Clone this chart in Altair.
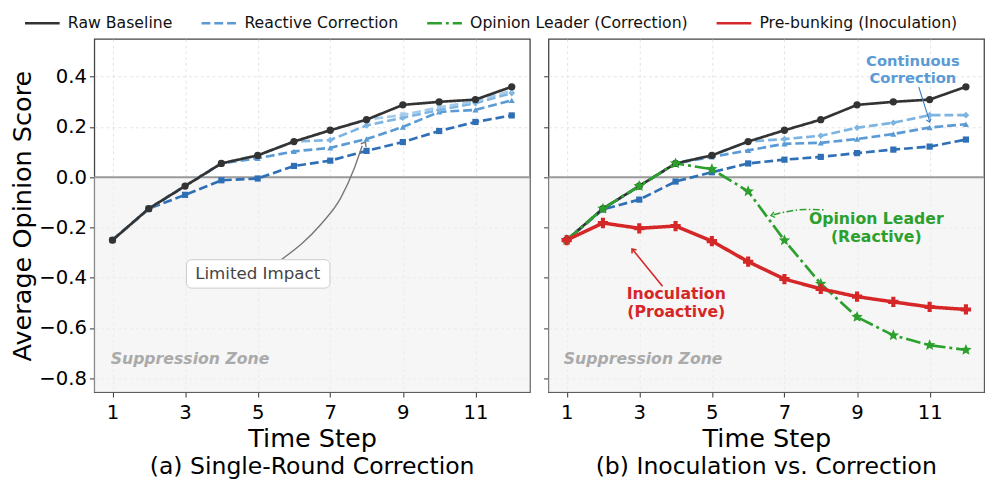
import math
import altair as alt
import pandas as pd

# ---------------- data ----------------
steps = list(range(1, 13))
raw_baseline = [-0.25, -0.125, -0.035, 0.055, 0.087, 0.142, 0.187, 0.229, 0.288, 0.300, 0.309, 0.360]

# (a) single-round corrections at different times
a_dark = [-0.25, -0.125, -0.070, -0.012, -0.005, 0.045, 0.066, 0.105, 0.140, 0.184, 0.220, 0.246]
a_med = [-0.25, -0.125, -0.035, 0.055, 0.075, 0.103, 0.117, 0.152, 0.200, 0.260, 0.268, 0.306]
a_light = [-0.25, -0.125, -0.035, 0.055, 0.087, 0.142, 0.148, 0.206, 0.237, 0.268, 0.295, 0.335]
a_lightest = [-0.25, -0.125, -0.035, 0.055, 0.087, 0.142, 0.187, 0.229, 0.248, 0.278, 0.302, 0.345]

# (b) continuous correction, opinion leader, inoculation
b_light = [-0.25, -0.125, -0.035, 0.055, 0.087, 0.142, 0.152, 0.165, 0.197, 0.217, 0.247, 0.247]
b_med = [-0.25, -0.125, -0.035, 0.055, 0.081, 0.107, 0.133, 0.137, 0.152, 0.172, 0.198, 0.211]
b_dark = [-0.25, -0.128, -0.089, -0.017, 0.020, 0.055, 0.070, 0.081, 0.096, 0.110, 0.122, 0.150]
opinion_leader = [-0.25, -0.125, -0.035, 0.055, 0.032, -0.056, -0.251, -0.424, -0.556, -0.629, -0.668, -0.687]
inoculation = [-0.25, -0.182, -0.203, -0.194, -0.254, -0.336, -0.405, -0.444, -0.475, -0.496, -0.516, -0.526]

legend_keys = ["Raw Baseline", "Reactive Correction", "Opinion Leader (Correction)", "Pre-bunking (Inoculation)"]
all_keys = legend_keys + ["rc_dark", "rc_light", "rc_lightest"]
key_colors = ["#333333", "#5b9bd5", "#2ca02c", "#d62728", "#2f6fb5", "#7db4e2", "#a4cbeb"]
key_dash = [[1, 0], [9, 4], [15, 4, 3, 4], [1, 0], [9, 4], [9, 4], [9, 4]]

star = "M" + "L".join(
    f"{(1 if i % 2 == 0 else 0.45) * math.cos(math.radians(-90 + 36 * i)):.3f},"
    f"{(1 if i % 2 == 0 else 0.45) * math.sin(math.radians(-90 + 36 * i)):.3f}"
    for i in range(10)) + "Z"
key_shapes = ["circle", "triangle-up", star, "cross", "square", "diamond", "triangle-down"]
key_sizes = [55, 40, 150, 110, 40, 46, 40]
marker = {k: (c, s, z) for k, c, s, z in zip(all_keys, key_colors, key_shapes, key_sizes)}


def long(series):
    rows = []
    for key, vals in series:
        for s, v in zip(steps, vals):
            rows.append({"key": key, "step": s, "value": v})
    return pd.DataFrame(rows)


df_a = long([("rc_dark", a_dark), ("Reactive Correction", a_med), ("rc_light", a_light),
             ("rc_lightest", a_lightest), ("Raw Baseline", raw_baseline)])
df_b = long([("rc_dark", b_dark), ("Reactive Correction", b_med), ("rc_light", b_light),
             ("Raw Baseline", raw_baseline), ("Opinion Leader (Correction)", opinion_leader),
             ("Pre-bunking (Inoculation)", inoculation)])

W, H = 444, 360
XDOM = [0.5, 12.5]
YDOM = [-0.855, 0.55]
chevron = "M-0.75,0.95L0,0L0.75,0.95"
one = pd.DataFrame({"z": [0]})

legend = alt.Legend(orient="none", legendX=-72, legendY=-35, direction="horizontal", title=None,
                    labelFontSize=16, symbolType="stroke", symbolSize=1250, symbolStrokeWidth=2.5,
                    columnPadding=24, labelOffset=7, values=legend_keys, labelColor="#111",
                    labelLimit=0)

color_enc = alt.Color("key:N", scale=alt.Scale(domain=all_keys, range=key_colors), legend=legend)
dash_enc = alt.StrokeDash("key:N", scale=alt.Scale(domain=all_keys, range=key_dash), legend=legend)
width_enc = alt.condition(alt.datum.key == "Pre-bunking (Inoculation)", alt.value(3.6), alt.value(2.7))

BLUE_KEYS = ["rc_dark", "Reactive Correction", "rc_light", "rc_lightest"]
OTHER_KEYS = ["Raw Baseline", "Opinion Leader (Correction)", "Pre-bunking (Inoculation)"]


def panel(df, subtitle, show_y, annots):
    xenc = alt.X("step:Q", scale=alt.Scale(domain=XDOM, nice=False),
                 axis=alt.Axis(values=[1, 3, 5, 7, 9, 11], title="Time Step", titleFontSize=26,
                               labelFontSize=20, titleFontWeight="normal",
                               labelPadding=6, titlePadding=3, titleColor="#000", labelColor="#000"))
    if show_y:
        yaxis = alt.Axis(values=[-0.8, -0.6, -0.4, -0.2, 0.0, 0.2, 0.4], format=".1f",
                         title="Average Opinion Score", titleFontSize=26, labelFontSize=20,
                         titleFontWeight="normal", titlePadding=3, labelPadding=3,
                         titleColor="#000", labelColor="#000")
    else:
        yaxis = alt.Axis(values=[-0.8, -0.6, -0.4, -0.2, 0.0, 0.2, 0.4], labels=False, title=None)
    yenc = alt.Y("value:Q", scale=alt.Scale(domain=YDOM, nice=False), axis=yaxis)

    base = alt.Chart(df).encode(x=xenc, y=yenc)
    band = alt.Chart(one).mark_rect(fill="#f0f0f0", opacity=0.6).encode(
        x=alt.value(0), x2=alt.value(W), y=alt.datum(0), y2=alt.value(H))
    zero = alt.Chart(one).mark_rule(color="#9a9a9a", strokeWidth=2).encode(y=alt.datum(0))

    present = list(df["key"].unique())

    def lines(keys):
        return base.transform_filter(alt.FieldOneOfPredicate(field="key", oneOf=keys)).mark_line().encode(
            color=color_enc, strokeDash=dash_enc, strokeWidth=width_enc, detail="key:N")

    def points(keys):
        out = []
        for k in keys:
            if k not in present:
                continue
            c, s, z = marker[k]
            out.append(base.transform_filter(alt.datum.key == k).mark_point(
                filled=True, opacity=1, strokeWidth=0, fill=c, shape=s, size=z))
        return out

    layers = ([band, zero, lines(BLUE_KEYS)] + points(BLUE_KEYS) + [lines(OTHER_KEYS)]
              + points(OTHER_KEYS) + annots)
    return alt.layer(*layers).properties(
        width=W, height=H,
        title=alt.TitleParams(subtitle, orient="bottom", fontSize=24, fontWeight="normal",
                              offset=4, color="#000", anchor="middle"))


def text_layer(x, y, t, **kw):
    d = pd.DataFrame({"step": [x], "value": [y], "t": [t]})
    return alt.Chart(d).mark_text(**kw).encode(x="step:Q", y="value:Q", text="t:N")


def curve(xs, ys, **kw):
    d = pd.DataFrame({"step": xs, "value": ys})
    return alt.Chart(d).mark_line(**kw).encode(x="step:Q", y="value:Q")


def head(x, y, ang, color, size=70, sw=1.4):
    d = pd.DataFrame({"step": [x], "value": [y]})
    return alt.Chart(d).mark_point(shape=chevron, filled=False, angle=ang, size=size, color=color,
                                   strokeWidth=sw, opacity=1).encode(x="step:Q", y="value:Q")


sup_kw = dict(fontSize=16, fontWeight="bold", fontStyle="italic", color="#aaaaaa", align="left",
              baseline="middle")
blue_kw = dict(fontSize=15, fontWeight="bold", color="#5b9bd5", baseline="middle")
green_kw = dict(fontSize=16, fontWeight="bold", color="#2ca02c", baseline="middle")
red_kw = dict(fontSize=16, fontWeight="bold", color="#d62728", baseline="middle")

box_df = pd.DataFrame({"step": [3.04], "step2": [6.99], "value": [-0.328], "value2": [-0.441]})
annots_a = [
    curve([5.66, 6.75, 7.29, 7.66, 7.88], [-0.327, -0.186, -0.082, 0.035, 0.125],
          color="#777777", strokeWidth=1.4, interpolate="monotone"),
    head(7.97, 0.14, 32, "#777777"),
    alt.Chart(box_df).mark_rect(fill="white", stroke="#cccccc", strokeWidth=1, cornerRadius=5).encode(
        x="step:Q", x2="step2:Q", y="value:Q", y2="value2:Q"),
    text_layer(5.0, -0.385, "Limited Impact", fontSize=17, color="#444444", baseline="middle"),
    text_layer(0.95, -0.723, "Suppression Zone", **sup_kw),
]

annots_b = [
    text_layer(0.92, -0.723, "Suppression Zone", **sup_kw),
    text_layer(10.54, 0.461, "Continuous", **blue_kw),
    text_layer(10.54, 0.394, "Correction", **blue_kw),
    curve([10.70, 11.0], [0.359, 0.222], color="#3a7dc0", strokeWidth=1.1),
    head(11.0, 0.219, 163, "#3a7dc0", size=45, sw=1.1),
    text_layer(9.53, -0.165, "Opinion Leader", **green_kw),
    text_layer(9.53, -0.239, "(Reactive)", **green_kw),
    curve([6.70, 7.10, 7.55, 8.11], [-0.149, -0.136, -0.128, -0.130], color="#2ca02c", strokeWidth=1.6,
          strokeDash=[7, 2.5, 1.5, 2.5], interpolate="monotone"),
    head(6.63, -0.152, 258, "#2ca02c", size=60),
    text_layer(4.02, -0.464, "Inoculation", **red_kw),
    text_layer(4.02, -0.538, "(Proactive)", **red_kw),
    curve([3.64, 2.82], [-0.434, -0.288], color="#d62728", strokeWidth=1.6),
    head(2.80, -0.285, 321, "#d62728", size=60, sw=1.6),
]

left = panel(df_a, "(a) Single-Round Correction", True, annots_a)
right = panel(df_b, "(b) Inoculation vs. Correction", False, annots_b)

chart = alt.hconcat(left, right, spacing=10).resolve_scale(
    color="shared", strokeDash="shared").properties(
    padding={"left": 1, "top": -8, "right": 2, "bottom": 0}
).configure(font="DejaVu Sans").configure_view(
    stroke="#444444", strokeWidth=1.3
).configure_axis(
    grid=True, gridColor="#dddddd", gridDash=[3, 3], gridWidth=0.8, domain=False,
    tickColor="#444444", tickSize=5, tickWidth=1.1
)

chart.save("out.html", embed_options={"renderer": "svg", "actions": False})
